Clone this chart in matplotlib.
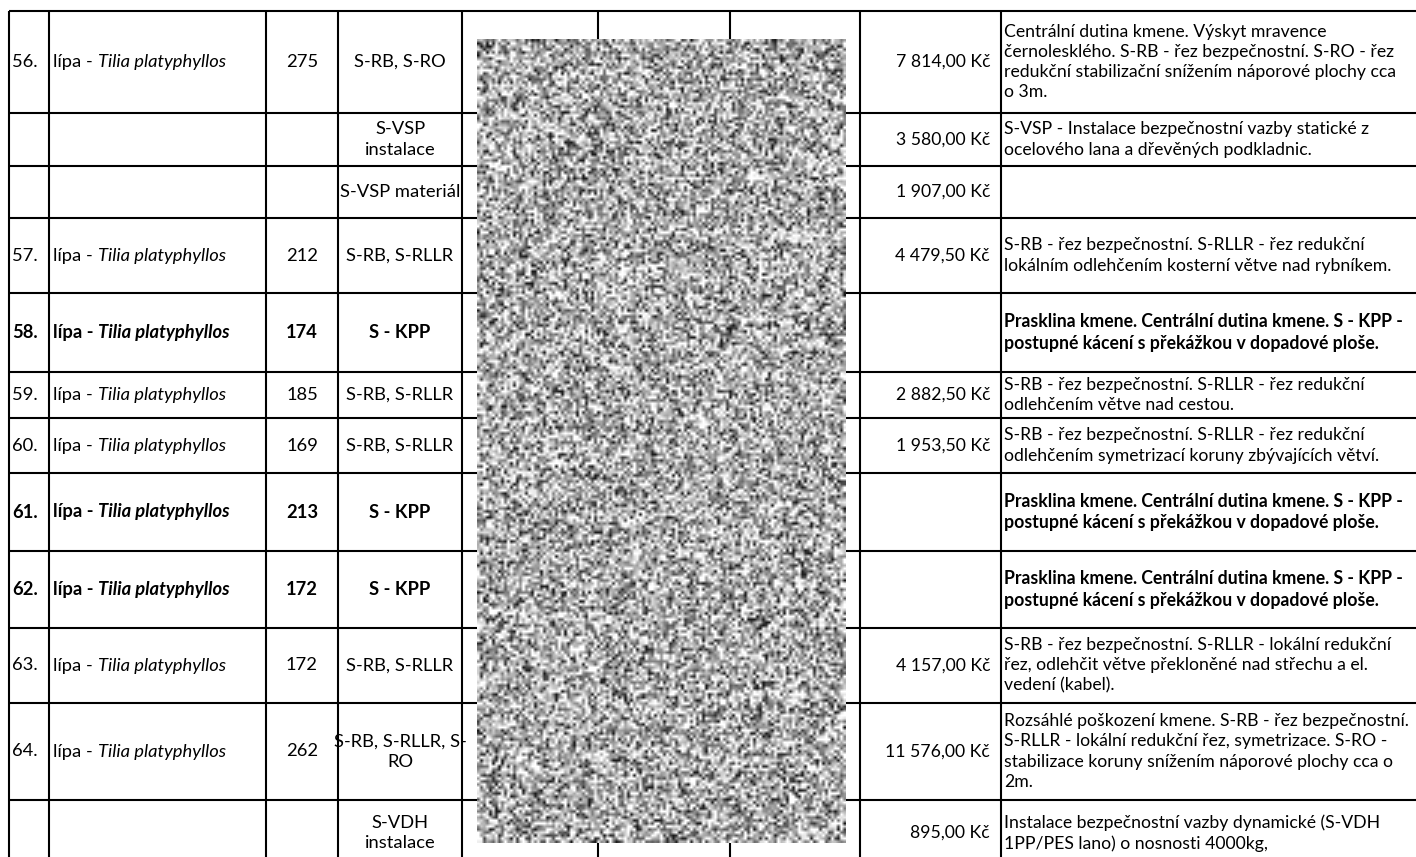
import numpy as np
import matplotlib
matplotlib.use("Agg")
import matplotlib.pyplot as plt
from matplotlib.patches import Rectangle

plt.rcParams['font.family'] = ['Lato', 'DejaVu Sans']

# table content, one entry per table row
tree_no = ["56.", "", "", "57.", "58.", "59.", "60.", "61.", "62.", "63.", "64.", ""]
common_name = ["lípa", "", "", "lípa", "lípa", "lípa", "lípa", "lípa", "lípa", "lípa", "lípa", ""]
latin_name = ["Tilia platyphyllos", "", "", "Tilia platyphyllos", "Tilia platyphyllos",
              "Tilia platyphyllos", "Tilia platyphyllos", "Tilia platyphyllos",
              "Tilia platyphyllos", "Tilia platyphyllos", "Tilia platyphyllos", ""]
trunk = ["275", "", "", "212", "174", "185", "169", "213", "172", "172", "262", ""]
operation = ["S-RB, S-RO", "S-VSP\ninstalace", "S-VSP materiál", "S-RB, S-RLLR", "S - KPP",
             "S-RB, S-RLLR", "S-RB, S-RLLR", "S - KPP", "S - KPP", "S-RB, S-RLLR",
             "S-RB, S-RLLR, S-\nRO", "S-VDH\ninstalace"]
price = ["7 814,00 Kč", "3 580,00 Kč", "1 907,00 Kč", "4 479,50 Kč", "", "2 882,50 Kč",
         "1 953,50 Kč", "", "", "4 157,00 Kč", "11 576,00 Kč", "895,00 Kč"]
is_felling = [False, False, False, False, True, False, False, True, True, False, False, False]
note = [
    "Centrální dutina kmene. Výskyt mravence\n"
    "černolesklého. S-RB - řez bezpečnostní. S-RO - řez\n"
    "redukční stabilizační snížením náporové plochy cca\n"
    "o 3m.",
    "S-VSP - Instalace bezpečnostní vazby statické z\n"
    "ocelového lana a dřevěných podkladnic.",
    "",
    "S-RB - řez bezpečnostní. S-RLLR - řez redukční\n"
    "lokálním odlehčením kosterní větve nad rybníkem.",
    "Prasklina kmene. Centrální dutina kmene. S - KPP -\n"
    "postupné kácení s překážkou v dopadové ploše.",
    "S-RB - řez bezpečnostní. S-RLLR - řez redukční\n"
    "odlehčením větve nad cestou.",
    "S-RB - řez bezpečnostní. S-RLLR - řez redukční\n"
    "odlehčením symetrizací koruny zbývajících větví.",
    "Prasklina kmene. Centrální dutina kmene. S - KPP -\n"
    "postupné kácení s překážkou v dopadové ploše.",
    "Prasklina kmene. Centrální dutina kmene. S - KPP -\n"
    "postupné kácení s překážkou v dopadové ploše.",
    "S-RB - řez bezpečnostní. S-RLLR - lokální redukční\n"
    "řez, odlehčit větve překloněné nad střechu a el.\n"
    "vedení (kabel).",
    "Rozsáhlé poškození kmene. S-RB - řez bezpečnostní.\n"
    "S-RLLR - lokální redukční řez, symetrizace. S-RO -\n"
    "stabilizace koruny snížením náporové plochy cca o\n"
    "2m.",
    "Instalace bezpečnostní vazby dynamické (S-VDH\n"
    "1PP/PES lano) o nosnosti 4000kg,",
]

# grid of the scanned page, in pixels
W, H = 1416, 857
col_x = [9, 49, 266, 338, 462, 598, 730, 860, 1001]
row_y = [11, 113, 166, 218, 293, 372, 418, 473, 551, 628, 703, 800, 866]
redacted = (477, 39, 846, 843)   # x0, y0, x1, y1
FS = 13.2        # left-hand columns
FS_NOTE = 12.7   # prices and remarks

fig = plt.figure(figsize=(W / 100, H / 100), dpi=100)
ax = fig.add_axes([0, 0, 1, 1])
ax.set_xlim(0, W)
ax.set_ylim(H, 0)
ax.axis("off")

# table lines
ax.hlines(row_y, col_x[0], W, color="black", lw=1.5)
ax.vlines(col_x, row_y[0], row_y[-1], color="black", lw=1.5)

for i in range(len(tree_no)):
    y_top, y_bot = row_y[i], row_y[i + 1]
    yc = (y_top + y_bot) / 2
    fw = "bold" if is_felling[i] else "normal"
    ax.text(col_x[0] + 3, yc, tree_no[i], ha="left", va="center", fontsize=FS, fontweight=fw)
    if common_name[i]:
        t = ax.text(col_x[1] + 4, yc, common_name[i] + " - ", ha="left", va="center",
                    fontsize=FS, fontweight=fw)
        ax.annotate(latin_name[i], xy=(1, 0), xycoords=t, ha="left", va="bottom",
                    fontsize=FS, fontweight=fw, style="italic")
    ax.text((col_x[2] + col_x[3]) / 2, yc, trunk[i], ha="center", va="center",
            fontsize=FS, fontweight=fw)
    op = ax.text((col_x[3] + col_x[4]) / 2, yc, operation[i], ha="center", va="center",
                 fontsize=FS, fontweight=fw, linespacing=1.35)
    cell = Rectangle((col_x[3], y_top), col_x[4] - col_x[3] + 2, y_bot - y_top,
                     transform=ax.transData, visible=False)
    ax.add_patch(cell)
    op.set_clip_path(cell)
    ax.text(col_x[8] - 11, yc, price[i], ha="right", va="center", fontsize=FS_NOTE)
    ax.text(col_x[8] + 3, yc, note[i], ha="left", va="center", fontsize=FS_NOTE,
            fontweight=fw, linespacing=1.31)

# redaction patch over the hidden columns (texture only, not data)
rng = np.random.default_rng(7)
x0, y0, x1, y1 = redacted
tex = np.clip(rng.normal(0.68, 0.3, ((y1 - y0) // 3, (x1 - x0) // 3)), 0.1, 1)
ax.imshow(tex, cmap="gray", vmin=0, vmax=1, extent=(x0, x1, y1, y0),
          interpolation="bilinear", aspect="auto", zorder=5)

fig.savefig("out.png", dpi=100, facecolor="white")
